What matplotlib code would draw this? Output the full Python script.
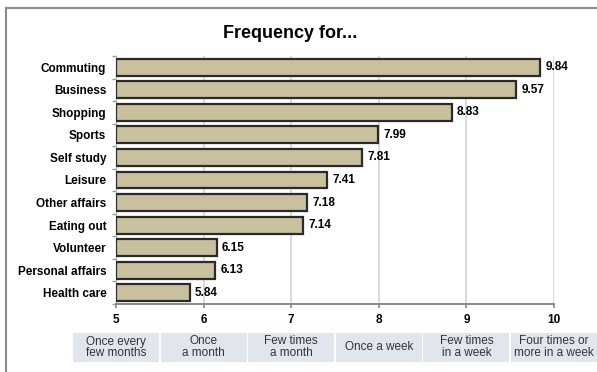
import matplotlib
matplotlib.use("Agg")
import matplotlib.pyplot as plt
import matplotlib.transforms as mtransforms
from matplotlib.lines import Line2D
from matplotlib.patches import Rectangle

plt.rcParams['font.family'] = ['Liberation Sans', 'DejaVu Sans']

# activities and mean frequency score
activities = ["Commuting", "Business", "Shopping", "Sports", "Self study", "Leisure",
              "Other affairs", "Eating out", "Volunteer", "Personal affairs", "Health care"]
scores = [9.84, 9.57, 8.83, 7.99, 7.81, 7.41, 7.18, 7.14, 6.15, 6.13, 5.84]

# scale ticks and what each step means
scale_ticks = [5, 6, 7, 8, 9, 10]
scale_names = ["Once every\nfew months", "Once\na month", "Few times\na month",
               "Once a week", "Few times\nin a week", "Four times or\nmore in a week"]

W, H = 597, 372
fig = plt.figure(figsize=(W / 100, H / 100), dpi=100)
ax = fig.add_axes([116 / W, 1 - 304 / H, (554 - 116) / W, (304 - 56) / H])

ypos = list(range(len(activities)))
ax.barh(ypos, [s - 5 for s in scores], left=5, height=0.75,
        color="#c9c09e", edgecolor="#2a2a2a", linewidth=1.6, zorder=3)
for y, s in zip(ypos, scores):
    ax.text(s + 0.06, y, f"{s:.2f}", va="center", ha="left",
            fontsize=8.5, fontweight="bold", color="black")

ax.set_xlim(5, 10)
ax.set_ylim(len(activities) - 0.5, -0.5)
ax.set_xticks(scale_ticks)
ax.set_xticklabels([str(t) for t in scale_ticks], fontsize=8.5, fontweight="bold")
ax.set_yticks(ypos)
ax.set_yticklabels(activities, fontsize=8.5, fontweight="bold")
ax.set_yticks([y + 0.5 for y in range(-1, len(activities))], minor=True)
ax.tick_params(axis="y", which="major", length=0, pad=7)
ax.tick_params(axis="y", which="minor", length=3, color="#999999", width=1)
ax.tick_params(axis="x", length=3, color="#888888", width=1.2, pad=4)

ax.grid(axis="x", color="#d9d9d9", linewidth=1.4, zorder=0)
for side in ["top", "right"]:
    ax.spines[side].set_visible(False)
ax.spines["bottom"].set_color("#888888")
ax.spines["bottom"].set_linewidth(1.4)
ax.spines["left"].set_color("#bbbbbb")
ax.spines["left"].set_linewidth(1.0)

# scale meaning boxes under the axis
trans = mtransforms.blended_transform_factory(ax.transData, fig.transFigure)
for t, name in zip(scale_ticks, scale_names):
    ax.add_patch(Rectangle((t - 0.49, 1 - 362 / H), 0.98, 29 / H, transform=trans,
                           facecolor="#e1e6ee", edgecolor="none", clip_on=False))
    ax.text(t, 1 - 347.5 / H, name, transform=trans, ha="center", va="center",
            fontsize=8.5, color="#333333", linespacing=1.0, clip_on=False)

fig.text(290 / W, 1 - 33 / H, "Frequency for...", ha="center", va="center",
         fontsize=13, fontweight="bold")

# outer frame
fig.add_artist(Line2D([6 / W, 6 / W], [0, 1 - 8 / H], transform=fig.transFigure,
                      color="#8c8c8c", linewidth=1.5))
fig.add_artist(Line2D([6 / W, 1], [1 - 8 / H, 1 - 8 / H], transform=fig.transFigure,
                      color="#8c8c8c", linewidth=1.5))

fig.savefig("out.png", dpi=100)
